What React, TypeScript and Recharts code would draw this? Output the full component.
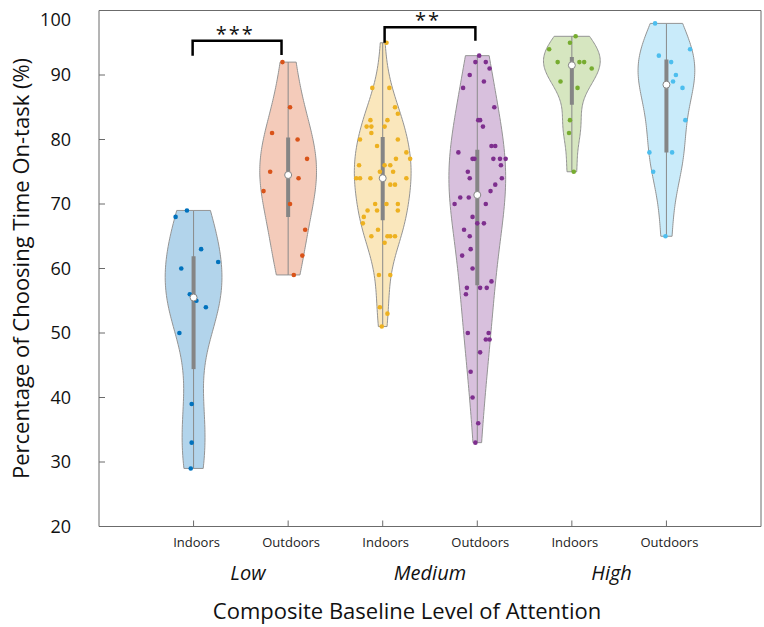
import React from "react";
import { ScatterChart, Scatter, XAxis, YAxis, ReferenceDot } from "recharts";

// tick labels / categories
const categories = ["Indoors", "Outdoors", "Indoors", "Outdoors", "Indoors", "Outdoors"];
const groups = ["Low", "Medium", "High"];
const groupPositions = [1.575, 3.5, 5.42];
const yTicks = [20, 30, 40, 50, 60, 70, 80, 90, 100];
const colors = ["#0072BD", "#D95319", "#EDB120", "#7E2F8E", "#77AC30", "#4DBEEE"];

const lowIndoors = [69, 68, 63, 61, 60, 56, 55, 54, 50, 39, 33, 29];
const lowIndoorsJitter = [-0.07, -0.19, 0.08, 0.26, -0.13, -0.04, 0.03, 0.13, -0.15, -0.02, -0.02, -0.03];

const lowOutdoors = [92, 85, 81, 80, 77, 75, 74, 72, 70, 66, 62, 59];
const lowOutdoorsJitter = [-0.06, 0.02, -0.17, 0.1, 0.2, -0.19, 0.11, -0.26, 0.02, 0.18, 0.15, 0.06];

const mediumIndoors = [
  95, 88, 88, 85, 84, 83, 83, 82, 82, 82, 81, 80, 80, 79, 78, 77, 77, 76, 76, 76, 75, 75, 74, 74,
  74, 74, 73, 73, 70, 70, 70, 69, 69, 69, 68, 67, 66, 65, 65, 65, 65, 64, 59, 59, 54, 53, 51,
];
const mediumIndoorsJitter = [
  0.04, -0.11, 0.07, 0.13, 0.16, -0.13, 0.05, -0.17, -0.12, 0.02, -0.12, -0.24, 0.16, -0.06, 0.25,
  0.29, 0.14, -0.25, 0.02, 0.08, -0.03, 0.11, -0.28, -0.24, -0.13, 0.25, 0.08, 0.13, -0.08, 0.04,
  0.16, -0.16, -0.06, 0.16, -0.2, -0.21, -0.05, -0.12, 0.05, 0.08, 0.13, 0.02, -0.04, 0.08, -0.03,
  0.05, -0.01,
];

const mediumOutdoors = [
  93, 92, 92, 91, 90, 89, 88, 85, 83, 83, 82, 79, 79, 78, 77, 77, 77, 77, 77, 76, 75, 74, 74, 73,
  72, 71, 71, 70, 70, 68, 67, 67, 66, 65, 63, 62, 60, 58, 57, 57, 57, 56, 50, 50, 49, 49, 47, 44,
  40, 36, 33,
];
const mediumOutdoorsJitter = [
  0.02, -0.02, 0.09, 0.13, -0.08, 0.07, -0.15, 0.18, 0.01, 0.03, 0.06, 0.15, 0.19, -0.2, -0.05,
  -0.03, 0.17, 0.24, 0.3, 0.25, -0.1, -0.08, 0.26, 0.19, 0.14, -0.18, -0.09, -0.24, 0.09, -0.05, 0,
  0.07, -0.14, -0.08, -0.07, -0.16, -0.05, 0.15, -0.11, 0.03, 0.1, -0.12, -0.1, 0.12, 0.09, 0.13,
  0.03, -0.07, -0.05, 0.01, -0.02,
];

const highIndoors = [96, 95, 94, 92, 92, 92, 91, 89, 88, 83, 81, 75];
const highIndoorsJitter = [0.04, -0.02, -0.24, -0.15, 0.08, 0.13, 0.21, -0.12, 0.06, -0.02, -0.03, 0.02];

const highOutdoors = [98, 94, 93, 92, 90, 89, 88, 83, 78, 78, 75, 65];
const highOutdoorsJitter = [-0.12, 0.25, -0.08, 0.05, 0.1, 0.07, 0.17, 0.2, -0.18, 0.06, -0.14, -0.01];

// box plot summary
const medians = [55.5, 74.5, 74, 71.4, 91.5, 88.5];
const q1 = [44.4, 68.0, 67.5, 57.4, 85.4, 78.0];
const q3 = [61.9, 80.3, 80.4, 78.4, 92.8, 92.4];

// significance brackets
const bracketFrom = [0.99, 3.02];
const bracketTo = [1.93, 3.98];
const bracketTop = [95.3, 97.4];
const bracketLeftEnd = [93.0, 95.0];
const bracketRightEnd = [93.1, 95.3];
const starLabels = ["***", "**"];
const starX = [1.44, 3.48];
const starY = [96.4, 98.5];

const series = [lowIndoors, lowOutdoors, mediumIndoors, mediumOutdoors, highIndoors, highOutdoors];
const jitters = [
  lowIndoorsJitter,
  lowOutdoorsJitter,
  mediumIndoorsJitter,
  mediumOutdoorsJitter,
  highIndoorsJitter,
  highOutdoorsJitter,
];

const VIOLIN_WIDTH = 0.3;
const axisColor = "#6b6b6b";
const textColor = "#111";

function median(a: number[]) {
  const s = [...a].sort((p, q) => p - q);
  const m = Math.floor(s.length / 2);
  return s.length % 2 ? s[m] : (s[m - 1] + s[m]) / 2;
}

// kernel density (MATLAB ksdensity default bandwidth), truncated to the data range
function violinOutline(values: number[], center: number) {
  const med = median(values);
  const sig = median(values.map((v) => Math.abs(v - med))) / 0.6745;
  const bw = sig * Math.pow(4 / (3 * values.length), 0.2);
  const lo = Math.min(...values);
  const hi = Math.max(...values);
  const steps = 100;
  const ys = Array.from({ length: steps + 1 }, (_, k) => lo + ((hi - lo) * k) / steps);
  const dens = ys.map((y) => values.reduce((s, v) => s + Math.exp(-0.5 * ((y - v) / bw) ** 2), 0));
  const maxD = Math.max(...dens);
  const half = dens.map((d) => (d / maxD) * VIOLIN_WIDTH);
  const right = ys.map((y, k) => ({ x: center + half[k], y }));
  const left = ys.map((y, k) => ({ x: center - half[k], y })).reverse();
  return [{ x: center, y: lo }, ...right, { x: center, y: hi }, ...left, { x: center, y: lo }];
}

const noShape = () => <g />;

// the "100" label sits a little lower than its tick in the original figure
const YTick = (props: any) => {
  const { x, y, payload } = props;
  const shift = payload.value === 100 ? 9 : 0;
  return (
    <text x={x} y={y + shift} dy="0.355em" textAnchor="end" fontSize={18} fill={textColor}>
      {payload.value}
    </text>
  );
};

export default function App() {
  return (
    <div style={{ position: "absolute", left: 0, top: 0 }}>
      <ScatterChart
        width={764}
        height={627}
        margin={{ top: 9.5, right: 2, bottom: 0.5, left: 0 }}
        style={{ fontFamily: "'Open Sans', sans-serif" }}
      >
        <XAxis
          xAxisId={0}
          type="number"
          dataKey="x"
          domain={[0, 7]}
          allowDataOverflow
          ticks={[1, 2, 3, 4, 5, 6]}
          tickFormatter={(v: number) => categories[Math.round(v) - 1]}
          height={30}
          axisLine={{ stroke: axisColor }}
          tickLine={{ stroke: axisColor }}
          tickSize={-6}
          tickMargin={17}
          tick={{ fontSize: 13, fill: "#222", dx: 3 }}
          interval={0}
        />
        <XAxis
          xAxisId="group"
          type="number"
          dataKey="x"
          domain={[0, 7]}
          allowDataOverflow
          ticks={groupPositions}
          tickFormatter={(v: number) => groups[groupPositions.indexOf(v)]}
          height={70}
          axisLine={false}
          tickLine={false}
          tickSize={0}
          tickMargin={9}
          interval={0}
          tick={{ fontSize: 20, fontStyle: "italic", fill: textColor }}
          label={{
            value: "Composite Baseline Level of Attention",
            position: "insideBottom",
            offset: 8,
            dx: -23,
            fontSize: 22,
            fill: textColor,
          }}
        />
        <XAxis
          xAxisId="top"
          orientation="top"
          type="number"
          dataKey="x"
          domain={[0, 7]}
          allowDataOverflow
          ticks={[1, 2, 3, 4, 5, 6]}
          interval={0}
          tick={false}
          height={1}
          tickSize={-5}
          axisLine={{ stroke: axisColor }}
          tickLine={{ stroke: axisColor }}
        />
        <YAxis
          yAxisId={0}
          type="number"
          dataKey="y"
          domain={[20, 100]}
          allowDataOverflow
          ticks={yTicks}
          interval={0}
          width={99}
          axisLine={{ stroke: axisColor }}
          tickLine={{ stroke: axisColor }}
          tickSize={-6}
          tickMargin={34}
          tick={<YTick />}
          label={{
            value: "Percentage of Choosing Time On-task (%)",
            angle: -90,
            position: "insideLeft",
            offset: 21,
            fontSize: 22,
            fill: textColor,
            style: { textAnchor: "middle" },
          }}
        />
        <YAxis
          yAxisId="right"
          orientation="right"
          type="number"
          dataKey="y"
          domain={[20, 100]}
          allowDataOverflow
          ticks={yTicks}
          interval={0}
          tick={false}
          width={1}
          tickSize={-5}
          axisLine={{ stroke: axisColor }}
          tickLine={{ stroke: axisColor }}
        />

        {series.map((values, i) => {
          const c = i + 1;
          return (
            <React.Fragment key={i}>
              <Scatter
                data={violinOutline(values, c)}
                shape={noShape}
                line={{ fill: colors[i], fillOpacity: 0.3, stroke: "#949494", strokeWidth: 1 }}
                lineJointType="linear"
                isAnimationActive={false}
              />
              <Scatter
                data={[
                  { x: c, y: Math.min(...values) },
                  { x: c, y: Math.max(...values) },
                ]}
                shape={noShape}
                line={{ stroke: "#8a8a8a", strokeWidth: 1 }}
                isAnimationActive={false}
              />
              <Scatter
                data={[
                  { x: c, y: q1[i] },
                  { x: c, y: q3[i] },
                ]}
                shape={noShape}
                line={{ stroke: "#858585", strokeWidth: 4 }}
                isAnimationActive={false}
              />
              <Scatter
                data={values.map((v, k) => ({ x: c + jitters[i][k], y: v }))}
                shape={(p: any) => <circle cx={p.cx} cy={p.cy} r={2.3} fill={colors[i]} />}
                isAnimationActive={false}
              />
              <Scatter
                xAxisId="group"
                data={[{ x: c, y: medians[i] }]}
                shape={(p: any) => (
                  <circle cx={p.cx} cy={p.cy} r={3.5} fill="#fff" stroke="#858585" strokeWidth={1} />
                )}
                isAnimationActive={false}
              />
            </React.Fragment>
          );
        })}

        {bracketFrom.map((from, i) => (
          <Scatter
            key={"br" + i}
            xAxisId="top"
            yAxisId="right"
            data={[
              { x: from, y: bracketLeftEnd[i] },
              { x: from, y: bracketTop[i] },
              { x: bracketTo[i], y: bracketTop[i] },
              { x: bracketTo[i], y: bracketRightEnd[i] },
            ]}
            shape={noShape}
            line={{ stroke: "#000", strokeWidth: 2.5, fill: "none" }}
            isAnimationActive={false}
          />
        ))}
        {starLabels.map((s, i) => (
          <ReferenceDot
            key={"st" + i}
            x={starX[i]}
            y={starY[i]}
            r={0}
            fill="none"
            stroke="none"
            label={{ value: s, position: "center", fontSize: 20, fill: textColor, letterSpacing: 2 }}
          />
        ))}
      </ScatterChart>
    </div>
  );
}
